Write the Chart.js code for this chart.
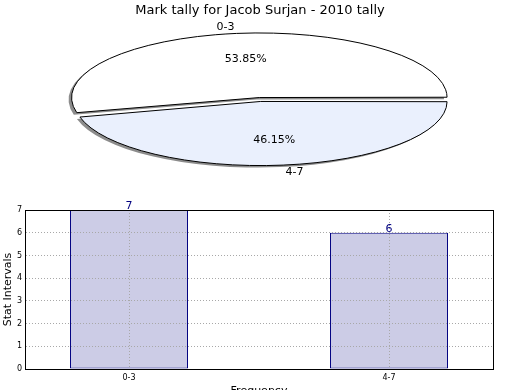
<!DOCTYPE html>
<html>
<head>
<meta charset="utf-8">
<script src="https://cdn.jsdelivr.net/npm/chart.js@4.4.1/dist/chart.umd.min.js"></script>
<style>
  html, body { margin: 0; padding: 0; background: #ffffff; overflow: hidden; }
  body { width: 520px; height: 390px; position: relative; }
  #pieBox { position: absolute; left: 0; top: 0; width: 520px; height: 190px; }
  #barBox { position: absolute; left: 0; top: 190px; width: 520px; height: 215px; }
</style>
</head>
<body>
<div id="pieBox"><canvas id="pie" width="520" height="190"></canvas></div>
<div id="barBox"><canvas id="bar" width="520" height="215"></canvas></div>
<script>
const chartTitle = 'Mark tally for Jacob Surjan - 2010 tally';
const categories = ['0-3', '4-7'];
const tallies = [7, 6];
const sliceColors = ['#ffffff', '#eaf0fd'];

Chart.defaults.font.family = "'DejaVu Sans', sans-serif";
Chart.defaults.color = '#000000';

// The pie is drawn as a circle and squashed vertically into the flat
// ellipse of the original; the slices are pulled apart with `offset`.
const SQUASH = 0.344;
const EXPLODE = 23; // chart.js moves a slice by a quarter of its offset

const total = tallies.reduce((a, b) => a + b, 0);

const squashPie = {
    id: 'squashPie',
    beforeDatasetsDraw(chart) {
        const ctx = chart.ctx;
        const arc = chart.getDatasetMeta(0).data[0];
        const dpr = chart.currentDevicePixelRatio;
        ctx.save();
        ctx.translate(arc.x, arc.y);
        ctx.scale(1, SQUASH);
        ctx.translate(-arc.x, -arc.y);
        ctx.shadowColor = 'rgba(0, 0, 0, 0.45)';
        ctx.shadowOffsetX = -3;
        ctx.shadowOffsetY = 2;
        // stroke with an unscaled pen so the outline stays 1px all round,
        // and without shadow so it only sits under the fill
        const stroke = ctx.stroke;
        ctx.stroke = function () {
            this.save();
            this.setTransform(dpr, 0, 0, dpr, 0, 0);
            this.shadowColor = 'rgba(0, 0, 0, 0)';
            stroke.apply(this, arguments);
            this.restore();
        };
    },
    afterDatasetsDraw(chart) {
        delete chart.ctx.stroke;
        chart.ctx.restore();
    },
    afterDraw(chart) {
        const ctx = chart.ctx;
        const arcs = chart.getDatasetMeta(0).data;
        const values = chart.data.datasets[0].data;
        const shift = EXPLODE / 4;
        ctx.save();
        ctx.font = "11px 'DejaVu Sans'";
        ctx.fillStyle = '#000000';
        ctx.textBaseline = 'middle';
        arcs.forEach((arc, i) => {
            const mid = (arc.startAngle + arc.endAngle) / 2;
            const at = (k) => {
                const r = shift + k * (arc.outerRadius + shift);
                return { x: arc.x + Math.cos(mid) * r, y: arc.y + Math.sin(mid) * r * SQUASH };
            };
            const pct = at(0.6);
            ctx.textAlign = 'center';
            ctx.fillText((values[i] / total * 100).toFixed(2) + '%', pct.x, pct.y);
            const lab = at(1.1);
            ctx.textAlign = Math.cos(mid) < 0 ? 'right' : 'left';
            ctx.fillText(chart.data.labels[i], lab.x, lab.y);
        });
        ctx.restore();
    },
};

new Chart(document.getElementById('pie'), {
    type: 'pie',
    data: {
        labels: categories,
        datasets: [{
            data: tallies,
            backgroundColor: sliceColors,
            borderColor: '#000000',
            borderWidth: 1,
            offset: EXPLODE,
            clip: false,
            radius: 182,
            // first slice ends on the 3 o'clock line, like matplotlib's ccw start
            rotation: 90 + 360 * (1 - tallies[0] / total),
        }],
    },
    options: {
        responsive: false,
        animation: false,
        layout: { padding: { bottom: 9.6 } },
        plugins: {
            legend: { display: false },
            tooltip: { enabled: false },
            title: {
                display: true,
                text: chartTitle,
                color: '#000000',
                font: { size: 13, weight: 'normal' },
                padding: { top: 3, bottom: 0 },
            },
        },
    },
    plugins: [squashPie],
});

const barValues = {
    id: 'barValues',
    afterDraw(chart) {
        const ctx = chart.ctx;
        ctx.save();
        ctx.font = "11px 'DejaVu Sans'";
        ctx.fillStyle = '#000080';
        ctx.textAlign = 'center';
        ctx.textBaseline = 'alphabetic';
        chart.getDatasetMeta(0).data.forEach((bar, i) => {
            ctx.fillText(String(tallies[i]), bar.x, bar.y - 1);
        });
        ctx.restore();
    },
};

const gridColor = '#a8a8a8';

new Chart(document.getElementById('bar'), {
    type: 'bar',
    data: {
        datasets: [{
            data: tallies.map((v, i) => ({ x: i, y: v })),
            backgroundColor: '#cccce6',
            borderColor: '#000080',
            borderWidth: 1,
            borderSkipped: false,
            categoryPercentage: 0.454,
            barPercentage: 1,
        }],
    },
    options: {
        responsive: false,
        animation: false,
        layout: { padding: { top: 20, right: 27, left: 0, bottom: 0 } },
        plugins: { legend: { display: false }, tooltip: { enabled: false } },
        scales: {
            x: {
                type: 'linear',
                position: 'bottom',
                min: -0.4,
                max: 1.4,
                offset: false,
                afterBuildTicks: (scale) => { scale.ticks = categories.map((_, i) => ({ value: i })); },
                afterFit: (scale) => { scale.height = 36; },
                ticks: { font: { size: 8 }, color: '#000000', padding: 4, callback: (v) => categories[v] },
                grid: { color: gridColor, drawTicks: false, offset: false, z: 1 },
                border: { display: true, color: '#000000', width: 1, dash: [1, 2], z: 2 },
                title: { display: true, text: 'Frequency', color: '#000000', font: { size: 11 }, padding: { top: 2, bottom: 7 } },
            },
            y: {
                min: 0,
                max: 7,
                afterFit: (scale) => { scale.width = 25; },
                ticks: { stepSize: 1, font: { size: 8 }, color: '#000000', padding: 3 },
                grid: { color: gridColor, drawTicks: false, z: 1 },
                border: { display: true, color: '#000000', width: 1, dash: [1, 2], z: 2 },
                title: { display: true, text: 'Stat Intervals', color: '#000000', font: { size: 11 }, padding: { top: 2, bottom: 0 } },
            },
            xTop: {
                type: 'linear',
                position: 'top',
                afterFit: (scale) => { scale.height = 0; },
                ticks: { display: false },
                grid: { display: false, drawTicks: false },
                border: { display: true, color: '#000000', width: 1, z: 2 },
            },
            yRight: {
                type: 'linear',
                position: 'right',
                afterFit: (scale) => { scale.width = 0; },
                ticks: { display: false },
                grid: { display: false, drawTicks: false },
                border: { display: true, color: '#000000', width: 1, z: 2 },
            },
        },
    },
    plugins: [barValues],
});
</script>
</body>
</html>
